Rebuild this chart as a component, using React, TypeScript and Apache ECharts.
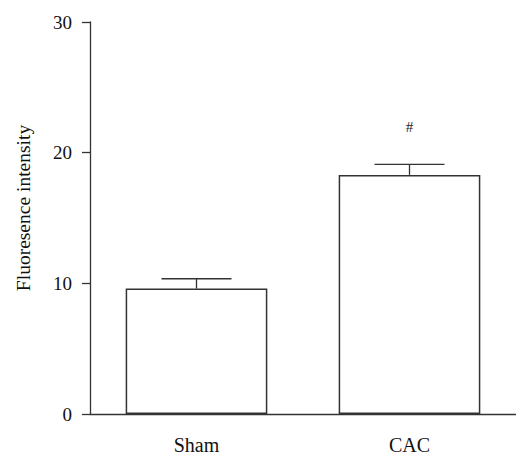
import React, { useEffect, useRef } from "react";
import * as echarts from "echarts";

const categories = ["Sham", "CAC"];
const means = [9.6, 18.3];
const errorTops = [10.35, 19.1];
const annotations = ["", "#"];
const yTicks = [0, 10, 20, 30];
const yTitle = "Fluoresence intensity";

const FONT = "'Liberation Serif', 'Times New Roman', serif";
const LINE = "#333333";

export default function App() {
  const ref = useRef<HTMLDivElement>(null);
  useEffect(() => {
    if (!ref.current) return;
    const chart = echarts.init(ref.current, null, { renderer: "svg" });
    chart.setOption({
      animation: false,
      backgroundColor: "#ffffff",
      grid: { left: 90, right: -1, top: 22, bottom: 43 },
      graphic: [
        {
          type: "text",
          x: 23,
          y: 208,
          rotation: Math.PI / 2,
          style: {
            text: yTitle,
            fill: "#111",
            font: `19.5px ${FONT}`,
            align: "center",
            verticalAlign: "middle",
          },
        },
      ],
      xAxis: {
        type: "category",
        data: categories,
        axisLine: { lineStyle: { color: LINE, width: 1.3 } },
        axisTick: { alignWithLabel: true, length: 8, lineStyle: { color: LINE, width: 1.3 } },
        axisLabel: { color: "#111", fontFamily: FONT, fontSize: 20, margin: 21 },
      },
      yAxis: {
        type: "value",
        min: yTicks[0],
        max: yTicks[yTicks.length - 1],
        interval: 10,
        splitLine: { show: false },
        axisLine: { show: true, lineStyle: { color: LINE, width: 1.3 } },
        axisTick: { show: true, length: 8, lineStyle: { color: LINE, width: 1.3 } },
        axisLabel: { color: "#111", fontFamily: FONT, fontSize: 19, margin: 18 },
      },
      series: [
        {
          type: "bar",
          data: means,
          barWidth: "66.5%",
          itemStyle: { color: "#ffffff", borderColor: LINE, borderWidth: 1.5 },
          z: 2,
        },
        {
          type: "custom",
          data: categories.map((_, i) => [i, means[i], errorTops[i]]),
          z: 3,
          renderItem: (params: any, api: any) => {
            const i = api.value(0);
            const base = api.coord([i, api.value(1)]);
            const top = api.coord([i, api.value(2)]);
            const half = 35;
            const children: any[] = [
              {
                type: "line",
                shape: { x1: base[0], y1: base[1], x2: top[0], y2: top[1] },
                style: { stroke: LINE, lineWidth: 1.3 },
              },
              {
                type: "line",
                shape: { x1: top[0] - half, y1: top[1], x2: top[0] + half, y2: top[1] },
                style: { stroke: LINE, lineWidth: 1.3 },
              },
            ];
            const ann = annotations[params.dataIndex];
            if (ann) {
              children.push({
                type: "text",
                x: top[0],
                y: top[1] - 37,
                style: {
                  text: ann,
                  fill: "#222",
                  font: `15px ${FONT}`,
                  align: "center",
                  verticalAlign: "middle",
                },
              });
            }
            return { type: "group", children };
          },
        },
      ],
    });
    return () => chart.dispose();
  }, []);
  return <div ref={ref} style={{ width: 516, height: 457, position: "absolute", left: 0, top: 0 }} />;
}
